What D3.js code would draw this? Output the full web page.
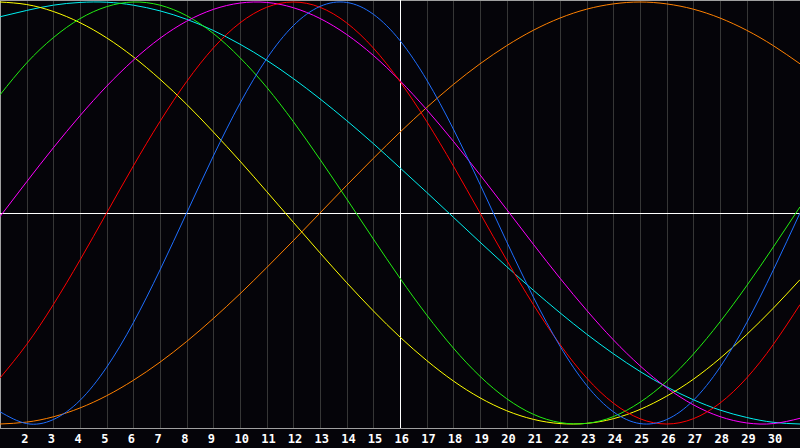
<!DOCTYPE html>
<html>
<head>
<meta charset="utf-8">
<script src="https://cdn.jsdelivr.net/npm/d3@7"></script>
<style>
  html, body { margin: 0; padding: 0; background: #050409; }
  svg { display: block; }
</style>
</head>
<body>
<script>
// days of the month shown (1..31), labels only for 2..30
const days = d3.range(1, 32);
const tickDays = d3.range(2, 31);

// one array per curve, value in [-1, 1] for each day
const orange = [-1, -0.991, -0.966, -0.924, -0.866, -0.793, -0.707, -0.609, -0.5, -0.383, -0.259, -0.131, 0, 0.131, 0.259, 0.383, 0.5, 0.609, 0.707, 0.793, 0.866, 0.924, 0.966, 0.991, 1, 0.991, 0.966, 0.924, 0.866, 0.793, 0.707];
const cyan = [0.93, 0.96, 0.985, 0.998, 0.999, 0.985, 0.958, 0.918, 0.865, 0.8, 0.724, 0.637, 0.541, 0.438, 0.329, 0.214, 0.098, -0.02, -0.138, -0.254, -0.366, -0.473, -0.574, -0.667, -0.751, -0.824, -0.885, -0.934, -0.969, -0.992, -1];
const yellow = [1, 0.988, 0.955, 0.902, 0.83, 0.74, 0.634, 0.515, 0.384, 0.246, 0.102, -0.044, -0.189, -0.33, -0.464, -0.588, -0.699, -0.796, -0.876, -0.937, -0.978, -0.998, -0.997, -0.975, -0.931, -0.868, -0.788, -0.689, -0.576, -0.451, -0.316];
const green = [0.56, 0.711, 0.831, 0.921, 0.978, 1, 0.985, 0.935, 0.851, 0.736, 0.596, 0.433, 0.254, 0.067, -0.123, -0.309, -0.483, -0.64, -0.774, -0.88, -0.954, -0.993, -0.997, -0.965, -0.897, -0.798, -0.669, -0.516, -0.345, -0.161, 0.029];
const magenta = [-0.017, 0.148, 0.309, 0.461, 0.601, 0.724, 0.828, 0.909, 0.965, 0.995, 0.998, 0.973, 0.922, 0.846, 0.747, 0.627, 0.49, 0.34, 0.181, 0.017, -0.148, -0.309, -0.461, -0.601, -0.724, -0.828, -0.909, -0.965, -0.995, -0.998, -0.973];
const red = [-0.782, -0.623, -0.434, -0.223, 0, 0.223, 0.434, 0.623, 0.782, 0.901, 0.975, 1, 0.975, 0.901, 0.782, 0.623, 0.434, 0.223, 0, -0.223, -0.434, -0.623, -0.782, -0.901, -0.975, -1, -0.975, -0.901, -0.782, -0.623, -0.434];
const blue = [-0.942, -0.998, -0.979, -0.888, -0.731, -0.52, -0.27, 0, 0.27, 0.52, 0.731, 0.888, 0.979, 0.998, 0.942, 0.817, 0.631, 0.398, 0.136, -0.136, -0.398, -0.631, -0.817, -0.942, -0.998, -0.979, -0.888, -0.731, -0.52, -0.27, 0];

const series = [
  {name: "orange", color: "#ff8000", values: orange},
  {name: "cyan", color: "#00f0f0", values: cyan},
  {name: "yellow", color: "#ffff00", values: yellow},
  {name: "green", color: "#22ee11", values: green},
  {name: "magenta", color: "#ff00ff", values: magenta},
  {name: "red", color: "#ff0000", values: red},
  {name: "blue", color: "#1e6eff", values: blue}
];

const width = 800, height = 448;
const plotBottom = 428;
const today = 16;

let svg = d3.select("body").append("svg")
  .attr("width", width)
  .attr("height", height);

svg.append("rect").attr("width", width).attr("height", height).attr("fill", "#050409");

let x = d3.scaleLinear().domain([1, 31]).range([0, 800]);
let y = d3.scaleLinear().domain([-1, 1]).range([424, 2]);

// grid + labels through the axis
let xAxis = d3.axisBottom(x)
  .tickValues(tickDays)
  .tickSize(-plotBottom)
  .tickFormat(d3.format("d"));

let gx = svg.append("g")
  .attr("transform", "translate(0," + plotBottom + ")")
  .call(xAxis);
gx.select(".domain").remove();
gx.selectAll(".tick line")
  .attr("stroke", "#363636")
  .attr("shape-rendering", "crispEdges");
gx.selectAll(".tick text")
  .attr("fill", "#ffffff")
  .attr("font-family", "DejaVu Sans Mono")
  .attr("font-weight", "bold")
  .attr("font-size", 12)
  .attr("text-anchor", "start")
  .attr("x", -6)
  .attr("y", 6)
  .attr("dy", "0.71em");

// frame
svg.append("line").attr("x1", 0).attr("x2", width).attr("y1", plotBottom + 0.5).attr("y2", plotBottom + 0.5)
  .attr("stroke", "#a0a0a0");
svg.append("line").attr("x1", 0).attr("x2", width).attr("y1", 0.5).attr("y2", 0.5)
  .attr("stroke", "#a0a0a0");
svg.append("line").attr("x1", 0.5).attr("x2", 0.5).attr("y1", 0).attr("y2", plotBottom)
  .attr("stroke", "#a0a0a0");

// white cross: today and zero line
svg.append("line")
  .attr("x1", Math.round(x(today)) + 0.5).attr("x2", Math.round(x(today)) + 0.5)
  .attr("y1", 0).attr("y2", plotBottom)
  .attr("stroke", "#ffffff");
svg.append("line")
  .attr("x1", 0).attr("x2", width)
  .attr("y1", Math.round(y(0)) + 0.5).attr("y2", Math.round(y(0)) + 0.5)
  .attr("stroke", "#ffffff");

let line = d3.line()
  .x((d, i) => x(days[i]))
  .y(d => y(d))
  .curve(d3.curveNatural);

svg.append("g").selectAll("path")
  .data(series)
  .enter()
  .append("path")
  .attr("d", d => line(d.values))
  .attr("fill", "none")
  .attr("stroke", d => d.color)
  .attr("stroke-width", 1);
</script>
</body>
</html>
